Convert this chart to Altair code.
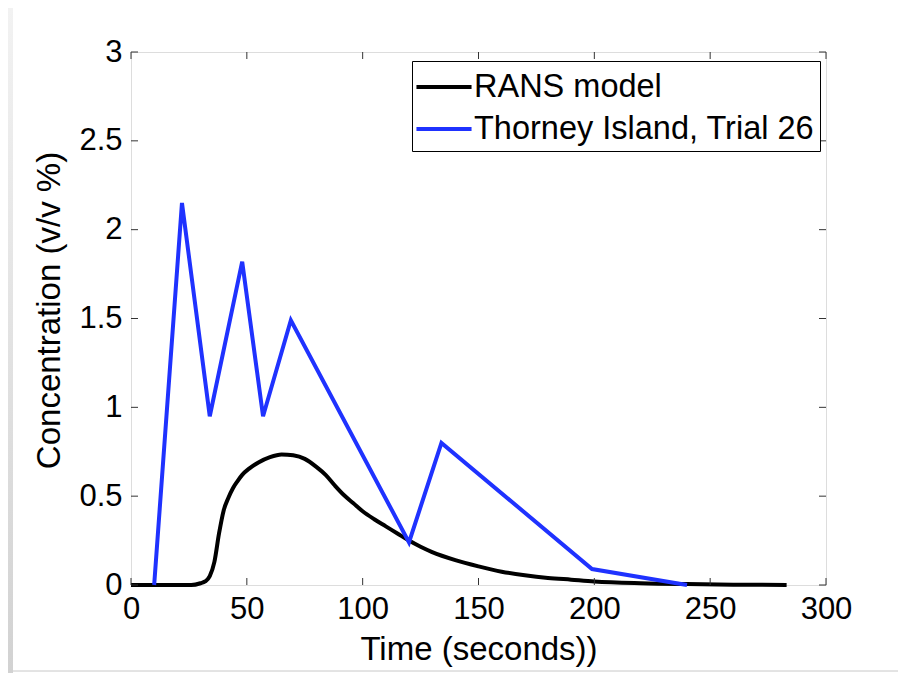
import altair as alt
import pandas as pd

# RANS model curve
rans_t = [0, 26, 30, 32, 34, 36, 38, 40, 42, 44, 46, 48, 51, 55, 60, 65, 70, 75, 80, 84,
          88, 92, 96, 100, 105, 110, 115, 120, 125, 130, 140, 150, 160, 170, 180, 190, 200,
          220, 240, 260, 283]
rans_c = [0, 0, 0.01, 0.02, 0.05, 0.13, 0.29, 0.42, 0.49, 0.545, 0.585, 0.62, 0.655, 0.69,
          0.72, 0.735, 0.73, 0.71, 0.665, 0.62, 0.56, 0.505, 0.46, 0.415, 0.37, 0.33, 0.29,
          0.25, 0.215, 0.185, 0.14, 0.105, 0.075, 0.055, 0.04, 0.03, 0.02, 0.01, 0.005,
          0.002, 0]

# Thorney Island, Trial 26
ti_t = [10, 22, 34, 48, 57, 69, 120, 134, 199, 240]
ti_c = [0, 2.15, 0.95, 1.82, 0.95, 1.49, 0.24, 0.80, 0.09, 0]

series_names = ["RANS model", "Thorney Island, Trial 26"]
series_colors = ["#000000", "#1f32ff"]

x_ticks = [0, 50, 100, 150, 200, 250, 300]
y_ticks = [0, 0.5, 1, 1.5, 2, 2.5, 3]

W, H = 695, 533
FONT = "Liberation Sans"
FS = 31
TFS = 33

df_r = pd.DataFrame({"t": rans_t, "c": rans_c, "s": series_names[0]})
df_b = pd.DataFrame({"t": ti_t, "c": ti_c, "s": series_names[1]})

xs = alt.Scale(domain=[0, 300], nice=False, zero=False)
ys = alt.Scale(domain=[0, 3], nice=False)
cs = alt.Scale(domain=series_names, range=series_colors)

x_axis = alt.Axis(values=x_ticks, title="Time (seconds))", grid=False, ticks=False, tickSize=0,
                  domain=False, labelFontSize=FS, titleFontSize=TFS, labelFont=FONT, titleFont=FONT,
                  labelColor="black", titleColor="black", titleFontWeight="normal",
                  labelPadding=9, titlePadding=9, labelFlush=False, labelOverlap=False)
y_axis = alt.Axis(values=y_ticks, title="Concentration (v/v %)", grid=False, ticks=False, tickSize=0,
                  domain=False, labelFontSize=FS, titleFontSize=TFS, labelFont=FONT, titleFont=FONT,
                  labelColor="black", titleColor="black", titleFontWeight="normal", format="~g",
                  labelPadding=9, titlePadding=12, titleY=258, labelFlush=False, labelOverlap=False)

legend = alt.Legend(title=None, orient="none", legendX=281, legendY=9,
                    symbolType="M-1.45,0H1.45", symbolSize=1444, symbolStrokeWidth=4,
                    symbolOffset=6, labelOffset=9, rowPadding=4, padding=5,
                    labelFontSize=32.5, labelFont=FONT, labelColor="black",
                    strokeColor="black", fillColor="white", labelLimit=600)

black = alt.Chart(df_r).mark_line(strokeWidth=4, interpolate="monotone").encode(
    x=alt.X("t:Q", scale=xs, axis=x_axis),
    y=alt.Y("c:Q", scale=ys, axis=y_axis),
    color=alt.Color("s:N", scale=cs, legend=legend),
)
blue = alt.Chart(df_b).mark_line(strokeWidth=4, interpolate="linear").encode(
    x=alt.X("t:Q", scale=xs),
    y=alt.Y("c:Q", scale=ys),
    color=alt.Color("s:N", scale=cs, legend=legend),
)

xt = pd.DataFrame({"v": x_ticks})
yt = pd.DataFrame({"v": y_ticks})
tick_style = dict(color="#333333", strokeWidth=1)
bx = alt.Chart(xt).mark_rule(**tick_style).encode(x=alt.X("v:Q", scale=xs), y=alt.value(H), y2=alt.value(H - 7))
tx = alt.Chart(xt).mark_rule(**tick_style).encode(x=alt.X("v:Q", scale=xs), y=alt.value(0), y2=alt.value(7))
ly = alt.Chart(yt).mark_rule(**tick_style).encode(y=alt.Y("v:Q", scale=ys), x=alt.value(0), x2=alt.value(7))
ry = alt.Chart(yt).mark_rule(**tick_style).encode(y=alt.Y("v:Q", scale=ys), x=alt.value(W), x2=alt.value(W - 7))

# window-frame decorations
strip = alt.Chart(pd.DataFrame({"a": [0]})).mark_rect(
    fill=alt.Gradient(gradient="linear", x1=0, x2=0, y1=0, y2=1,
                      stops=[alt.GradientStop(color="#f2f2f2", offset=0),
                             alt.GradientStop(color="#d2d2d2", offset=1)])
).encode(x=alt.value(-123), x2=alt.value(-118), y=alt.value(-44), y2=alt.value(H + 88))
bline = alt.Chart(pd.DataFrame({"a": [0]})).mark_rule(color="#c8c8c8", strokeWidth=1).encode(
    x=alt.value(-118), x2=alt.value(W + 72), y=alt.value(619))

chart = alt.layer(strip, bline, black, blue, bx, tx, ly, ry).properties(
    width=W, height=H,
    autosize=alt.AutoSizeParams(type="none"),
    padding={"left": 123, "top": 44, "right": 72, "bottom": 88},
).configure_view(stroke="black", strokeWidth=1).configure(background="white")

chart.save("out.html", embed_options={"renderer": "svg", "actions": False})
